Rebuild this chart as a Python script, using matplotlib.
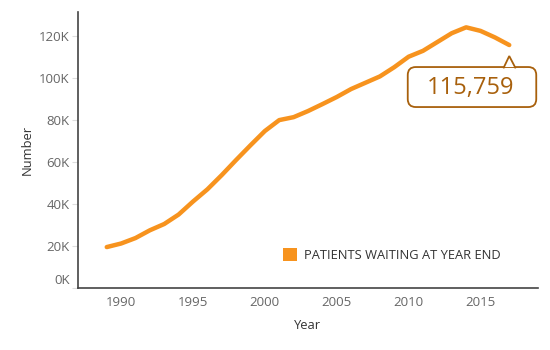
import matplotlib
matplotlib.use("Agg")
import matplotlib.pyplot as plt
import matplotlib.transforms as mtransforms
from matplotlib.patches import FancyBboxPatch, Polygon, Patch
from matplotlib.lines import Line2D
from matplotlib.ticker import FuncFormatter

plt.rcParams['font.family'] = ['Open Sans', 'DejaVu Sans']

years = list(range(1989, 2018))
patients = [19.5, 21.2, 23.8, 27.5, 30.5, 35.0, 41.2, 47.0, 53.8, 61.0, 68.0, 74.8,
            80.0, 81.4, 84.3, 87.6, 91.0, 94.8, 97.8, 100.8, 105.2, 110.2, 113.0,
            117.2, 121.4, 124.2, 122.5, 119.4, 115.759]
patients = [v * 1000 for v in patients]
series_label = "PATIENTS WAITING AT YEAR END"
callout_text = "115,759"
yticks = [0, 20000, 40000, 60000, 80000, 100000, 120000]
xticks = [1990, 1995, 2000, 2005, 2010, 2015]

line_color = '#F7931E'
callout_color = '#A8600C'
tick_color = '#666666'

fig = plt.figure(figsize=(5.5, 3.5), dpi=100)
ax = fig.add_axes([78/550, 62/350, 460/550, 276/350])

ax.plot(years, patients, color=line_color, lw=3.2, solid_capstyle='round',
        solid_joinstyle='round', zorder=3)

ax.set_xlim(1987, 2019)
ax.set_ylim(0, 131500)
ax.set_yticks(yticks)
ax.set_xticks(xticks)
ax.yaxis.set_major_formatter(FuncFormatter(lambda v, p: f"{int(round(v/1000))}K"))

for s in ['top', 'right']:
    ax.spines[s].set_visible(False)
for s in ['left', 'bottom']:
    ax.spines[s].set_color('#444444')
    ax.spines[s].set_linewidth(1.2)

ax.tick_params(axis='y', length=4, color='#dddddd', labelsize=9.5, labelcolor=tick_color, pad=2)
ax.tick_params(axis='x', length=0, labelsize=9.5, labelcolor=tick_color, pad=6)

ax.set_ylabel("Number", fontsize=9.3, color='#333333', labelpad=4)
ax.set_xlabel("Year", fontsize=9.3, color='#333333', labelpad=7)

# shift the 0K label up slightly, like the reference
t0 = ax.yaxis.get_major_ticks()[0]
t0.label1.set_transform(t0.label1.get_transform() +
                        mtransforms.ScaledTranslation(0, 0.09, fig.dpi_scale_trans))

# legend
leg = ax.legend(handles=[Patch(facecolor=line_color, edgecolor='none', label=series_label)],
                loc='center left', bbox_to_anchor=(283/550, 1 - 255/350),
                bbox_transform=fig.transFigure, frameon=False, fontsize=9.3,
                handlelength=1.1, handleheight=1.1, handletextpad=0.5,
                borderpad=0, borderaxespad=0)
for t in leg.get_texts():
    t.set_color('#333333')

# callout anchored at last data point (offsets in inches)
xd, yd = years[-1], patients[-1]
trans = fig.dpi_scale_trans + mtransforms.ScaledTranslation(xd, yd, ax.transData)
box_l, box_r, box_t, box_b = -1.015, 0.27, -0.22, -0.62
box = FancyBboxPatch((box_l, box_b), box_r - box_l, box_t - box_b,
                     boxstyle="round,pad=0,rounding_size=0.08",
                     transform=trans, facecolor='white', edgecolor=callout_color,
                     lw=1.3, zorder=5, clip_on=False)
ax.add_patch(box)
tip = (0.0, -0.11)
bl, br = (-0.055, box_t), (0.06, box_t)
tri = Polygon([bl, tip, br], closed=True, transform=trans, facecolor='white',
              edgecolor='none', zorder=6, clip_on=False)
ax.add_patch(tri)
ax.add_line(Line2D([bl[0], tip[0], br[0]], [bl[1] - 0.005, tip[1], br[1] - 0.005],
                   transform=trans, color=callout_color, lw=1.3, zorder=7,
                   clip_on=False, solid_joinstyle='miter'))
ax.text((box_l + box_r) / 2 - 0.015, (box_t + box_b) / 2 - 0.01, callout_text,
        transform=trans, ha='center', va='center', fontsize=17,
        color=callout_color, zorder=8)

fig.savefig("out.png", dpi=100)
